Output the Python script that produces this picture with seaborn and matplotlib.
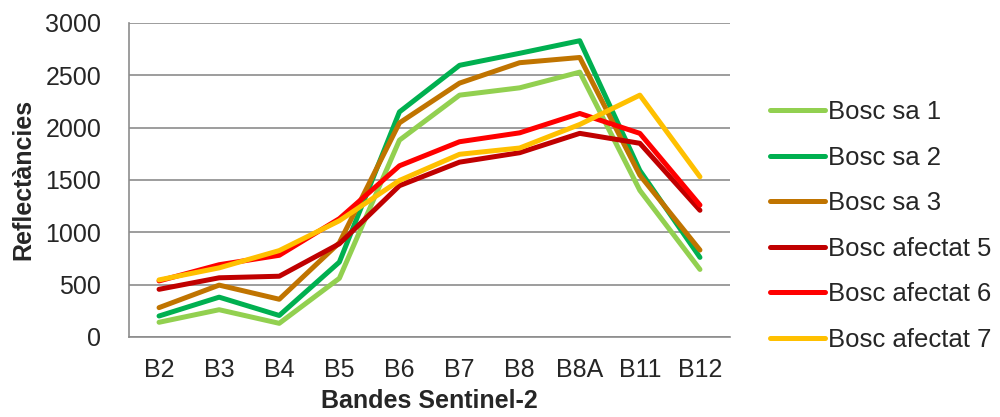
import pandas as pd
import numpy as np
import matplotlib
matplotlib.use('Agg')
import matplotlib.pyplot as plt
import seaborn as sns

bands = ['B2', 'B3', 'B4', 'B5', 'B6', 'B7', 'B8', 'B8A', 'B11', 'B12']

bosc_sa_1 = [140, 260, 130, 560, 1880, 2310, 2380, 2530, 1400, 645]
bosc_sa_2 = [200, 380, 205, 715, 2150, 2595, 2710, 2830, 1590, 760]
bosc_sa_3 = [280, 495, 360, 900, 2045, 2425, 2620, 2670, 1545, 830]
bosc_afectat_5 = [455, 565, 580, 890, 1445, 1670, 1760, 1945, 1850, 1210]
bosc_afectat_6 = [535, 690, 780, 1130, 1635, 1865, 1950, 2135, 1945, 1260]
bosc_afectat_7 = [545, 660, 825, 1110, 1495, 1745, 1805, 2030, 2310, 1530]

series_names = ['Bosc sa 1', 'Bosc sa 2', 'Bosc sa 3',
                'Bosc afectat 5', 'Bosc afectat 6', 'Bosc afectat 7']
series_vals = [bosc_sa_1, bosc_sa_2, bosc_sa_3,
               bosc_afectat_5, bosc_afectat_6, bosc_afectat_7]
colors = ['#92D050', '#00B050', '#C07400', '#C00000', '#FF0000', '#FFC000']

rows = []
for name, vals in zip(series_names, series_vals):
    for i, (b, v) in enumerate(zip(bands, vals)):
        rows.append({'pos': i, 'band': b, 'serie': name, 'valor': v})
df = pd.DataFrame(rows)

sns.set_style('white')
plt.rcParams['font.family'] = ['Liberation Sans', 'DejaVu Sans']

fig = plt.figure(figsize=(10, 4.17), dpi=100)
ax = fig.add_axes([0.129, 0.192, 0.601, 0.753])

sns.lineplot(data=df, x='pos', y='valor', hue='serie', hue_order=series_names,
             palette=colors, linewidth=3.6, ax=ax, legend=False, zorder=3)

ax.set_xlim(-0.5, 9.5)
ax.set_ylim(0, 3000)
ax.set_yticks(np.arange(0, 3001, 500))
ax.set_xticks(range(len(bands)))
ax.set_xticklabels(bands)
ax.yaxis.grid(True, color='#8C8C8C', linewidth=1.2)
ax.xaxis.grid(False)
for s in ['top', 'right']:
    ax.spines[s].set_visible(False)
for s in ['left', 'bottom']:
    ax.spines[s].set_color('#8C8C8C')
    ax.spines[s].set_linewidth(1.2)
ax.tick_params(axis='y', length=3, color='#8C8C8C', labelsize=18, pad=17)
ax.tick_params(axis='x', length=0, labelsize=18, pad=15)

ax.set_xlabel('Bandes Sentinel-2', fontsize=18, fontweight='bold', labelpad=5)
ax.set_ylabel('Reflectàncies', fontsize=18, fontweight='bold', labelpad=7)

handles = [plt.Line2D([0], [0], color=c, linewidth=3.6, solid_capstyle='round')
           for c in colors]
fig.legend(handles, series_names, loc='upper left', bbox_to_anchor=(0.77, 0.76),
           frameon=False, fontsize=18.5, handlelength=2.14, handletextpad=0.12,
           labelspacing=0.84, borderaxespad=0, borderpad=0)

fig.savefig('out.png', dpi=100)
